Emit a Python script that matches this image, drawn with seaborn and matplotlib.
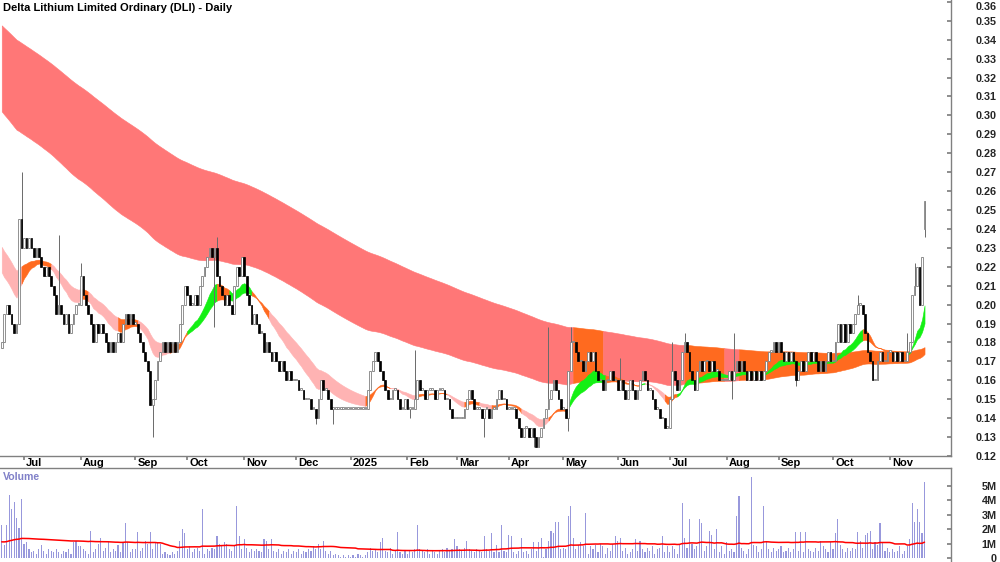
import numpy as np
import pandas as pd
import matplotlib
matplotlib.use("Agg")
import matplotlib.pyplot as plt
import matplotlib.ticker as mticker
import seaborn as sns

# ---- daily closes (A$), one list per month ----
close_jun24 = [0.18, 0.195, 0.2, 0.195, 0.19, 0.185, 0.19, 0.245, 0.23]
close_jul24 = [0.235, 0.23, 0.235, 0.23, 0.225, 0.23, 0.225, 0.22, 0.215, 0.22, 0.215, 0.21,
               0.205, 0.195, 0.2, 0.195, 0.19, 0.195, 0.185, 0.19, 0.195, 0.2, 0.2]
close_aug24 = [0.215, 0.205, 0.2, 0.195, 0.19, 0.18, 0.19, 0.185, 0.19, 0.185, 0.18, 0.175,
               0.18, 0.175, 0.18, 0.185, 0.18, 0.19, 0.195, 0.19, 0.195, 0.19]
close_sep24 = [0.19, 0.185, 0.18, 0.175, 0.17, 0.165, 0.147, 0.15, 0.16, 0.17, 0.175, 0.18,
               0.175, 0.18, 0.175, 0.18, 0.175, 0.18, 0.19, 0.2, 0.21]
close_oct24 = [0.205, 0.2, 0.2, 0.205, 0.2, 0.21, 0.215, 0.22, 0.225, 0.23, 0.225, 0.23,
               0.215, 0.21, 0.205, 0.2, 0.205, 0.2, 0.195, 0.21, 0.22, 0.215, 0.225]
close_nov24 = [0.215, 0.205, 0.2, 0.19, 0.195, 0.19, 0.185, 0.185, 0.175, 0.18, 0.175, 0.17,
               0.175, 0.17, 0.165, 0.17, 0.165, 0.16, 0.165, 0.16, 0.16]
close_dec24 = [0.16, 0.155, 0.155, 0.15, 0.15, 0.15, 0.145, 0.145, 0.14, 0.15, 0.16, 0.155,
               0.155, 0.15, 0.145, 0.145, 0.145, 0.145, 0.145, 0.145, 0.145, 0.145]
close_jan25 = [0.145, 0.145, 0.145, 0.145, 0.145, 0.145, 0.145, 0.155, 0.165, 0.17, 0.175, 0.17,
               0.165, 0.16, 0.155, 0.15, 0.15, 0.155, 0.155, 0.15, 0.145, 0.145, 0.15]
close_feb25 = [0.145, 0.145, 0.145, 0.15, 0.16, 0.155, 0.155, 0.15, 0.155, 0.155, 0.155, 0.15,
               0.155, 0.155, 0.155, 0.15, 0.15, 0.145, 0.14, 0.14]
close_mar25 = [0.14, 0.14, 0.14, 0.145, 0.15, 0.155, 0.15, 0.145, 0.145, 0.145, 0.14, 0.145,
               0.145, 0.14, 0.145, 0.145, 0.15, 0.155, 0.15, 0.15, 0.145]
close_apr25 = [0.145, 0.145, 0.145, 0.14, 0.135, 0.13, 0.135, 0.135, 0.13, 0.135, 0.13, 0.125,
               0.13, 0.135, 0.14, 0.145, 0.15, 0.155, 0.16, 0.155, 0.15, 0.145]
close_may25 = [0.145, 0.14, 0.165, 0.18, 0.18, 0.175, 0.17, 0.17, 0.165, 0.17, 0.175, 0.17,
               0.175, 0.165, 0.16, 0.16, 0.155, 0.16, 0.16, 0.165, 0.16, 0.16]
close_jun25 = [0.155, 0.16, 0.155, 0.15, 0.155, 0.16, 0.155, 0.15, 0.155, 0.16, 0.165, 0.16,
               0.155, 0.155, 0.15, 0.145, 0.145, 0.14, 0.14, 0.135, 0.135]
close_jul25 = [0.15, 0.165, 0.16, 0.155, 0.16, 0.175, 0.18, 0.175, 0.165, 0.16, 0.155, 0.165,
               0.17, 0.165, 0.17, 0.17, 0.165, 0.17, 0.165, 0.165, 0.16, 0.16, 0.16]
close_aug25 = [0.16, 0.165, 0.16, 0.165, 0.17, 0.165, 0.17, 0.165, 0.16, 0.165, 0.16, 0.165,
               0.16, 0.165, 0.16, 0.165, 0.17, 0.175, 0.175, 0.18, 0.175]
close_sep25 = [0.18, 0.175, 0.17, 0.175, 0.17, 0.175, 0.17, 0.16, 0.165, 0.17, 0.165, 0.17,
               0.175, 0.17, 0.175, 0.17, 0.165, 0.17, 0.165, 0.17, 0.175, 0.17]
close_oct25 = [0.17, 0.18, 0.19, 0.18, 0.19, 0.18, 0.19, 0.185, 0.19, 0.195, 0.2, 0.2,
               0.195, 0.185, 0.175, 0.17, 0.16, 0.16, 0.17, 0.175, 0.17, 0.17, 0.175]
close_nov25 = [0.175, 0.17, 0.175, 0.17, 0.175, 0.17, 0.17, 0.175, 0.18, 0.205, 0.21, 0.22,
               0.2, 0.225, 0.255]

# ---- daily volume (millions of shares) ----
vol_jun24 = [2.3, 0.9, 2.3, 4.4, 3.4, 3.9, 2.8, 2.1, 4.1]
vol_jul24 = [1.0, 1.1, 0.6, 0.4, 0.5, 0.3, 0.6, 0.9, 0.5, 0.3, 0.6, 0.5, 0.4, 0.6, 0.4, 0.3,
             0.5, 0.4, 0.6, 0.3, 1.1, 1.2, 0.8]
vol_aug24 = [0.8, 0.6, 0.5, 0.3, 1.9, 0.4, 0.6, 1.0, 1.4, 0.5, 0.7, 1.2, 0.4, 0.6, 0.5, 0.9,
             0.4, 1.1, 2.4, 1.1, 0.4, 0.6]
vol_sep24 = [0.6, 1.8, 0.5, 0.7, 1.2, 1.0, 1.8, 0.6, 1.1, 1.1, 1.0, 0.3, 0.4, 0.3, 0.2, 0.4,
             0.3, 0.5, 1.2, 2.0, 1.7]
vol_oct24 = [0.6, 0.8, 0.4, 0.6, 0.7, 0.5, 3.4, 0.3, 0.6, 0.5, 0.7, 0.6, 1.5, 1.0, 0.9, 1.1,
             1.0, 0.6, 0.5, 0.8, 3.6, 1.5, 0.6]
vol_nov24 = [1.3, 0.7, 0.4, 0.6, 0.5, 0.6, 0.5, 0.4, 1.3, 1.2, 0.6, 1.3, 0.5, 0.4, 0.6, 0.3,
             0.5, 0.4, 0.6, 0.3, 0.5]
vol_dec24 = [0.4, 0.6, 0.3, 0.5, 0.4, 0.6, 0.5, 0.8, 0.6, 1.0, 0.6, 1.2, 0.5, 0.3, 0.5, 0.2,
             0.3, 0.2, 0.1, 0.2, 0.1, 0.2]
vol_jan25 = [0.1, 0.2, 0.1, 0.3, 0.2, 0.1, 0.2, 0.4, 0.7, 0.5, 0.6, 0.4, 1.1, 1.4, 0.5, 0.4,
             0.7, 0.3, 0.5, 1.8, 0.4, 0.3, 0.5]
vol_feb25 = [0.3, 0.5, 0.4, 0.6, 2.3, 0.6, 0.5, 0.4, 0.6, 0.3, 0.5, 0.4, 0.3, 0.5, 0.6, 0.4,
             0.7, 0.5, 0.6, 1.3]
vol_mar25 = [0.8, 0.6, 0.5, 0.7, 1.2, 0.6, 0.5, 0.4, 0.6, 0.5, 0.4, 1.5, 0.6, 0.5, 1.7, 0.4,
             0.9, 0.4, 2.3, 0.5, 0.4]
vol_apr25 = [1.6, 1.5, 0.4, 0.3, 0.5, 1.4, 0.4, 0.5, 0.3, 0.6, 1.1, 0.5, 1.1, 1.4, 0.1, 0.6,
             1.2, 1.9, 1.7, 2.5, 2.5, 0.6]
vol_may25 = [0.7, 0.6, 2.9, 3.6, 1.4, 0.6, 0.9, 1.1, 0.8, 3.1, 0.3, 0.8, 0.6, 0.9, 0.4, 1.0,
             0.8, 0.3, 0.7, 0.5, 1.0, 1.5]
vol_jun25 = [1.2, 1.4, 0.5, 0.7, 0.3, 0.4, 0.6, 1.3, 0.5, 1.2, 0.6, 0.4, 0.7, 0.5, 0.8, 0.3,
             0.6, 0.7, 1.5, 0.4, 0.8]
vol_jul25 = [0.4, 0.8, 0.6, 0.3, 0.9, 3.8, 1.4, 0.7, 2.7, 1.0, 0.6, 0.8, 2.7, 2.4, 0.5, 0.8,
             1.9, 1.6, 0.6, 2.0, 0.4, 0.8, 0.3]
vol_aug25 = [1.1, 0.5, 0.6, 0.4, 2.9, 4.3, 0.7, 0.5, 0.3, 0.6, 5.6, 0.9, 0.8, 0.4, 0.6, 3.6,
             1.2, 0.6, 0.4, 0.7, 0.5]
vol_sep25 = [0.6, 0.8, 0.4, 0.5, 0.7, 0.4, 0.6, 1.8, 0.5, 1.8, 0.4, 1.8, 0.6, 0.5, 0.4, 0.7,
             0.5, 1.2, 0.8, 0.6, 0.4, 1.1]
vol_oct25 = [0.6, 1.7, 2.7, 0.9, 0.6, 0.4, 0.7, 0.5, 0.7, 0.6, 1.8, 1.2, 0.7, 1.6, 1.7, 1.9,
             0.6, 1.1, 0.9, 2.4, 1.1, 0.5, 0.7]
vol_nov25 = [0.4, 0.6, 0.4, 0.5, 0.8, 0.3, 0.5, 0.8, 1.3, 3.8, 2.5, 3.4, 2.5, 1.7, 5.3]

first_open = 0.177
gap_open = {"2025-11-21": 0.24}
wick_high = {"2024-06-28": 0.27, "2024-07-19": 0.237, "2024-08-01": 0.222, "2024-10-17": 0.236,
             "2025-02-06": 0.176, "2025-04-23": 0.188, "2025-05-06": 0.188, "2025-06-03": 0.172,
             "2025-07-02": 0.18, "2025-07-09": 0.185, "2025-08-06": 0.185, "2025-10-15": 0.205,
             "2025-11-12": 0.185, "2025-11-17": 0.222}
wick_low = {"2024-09-11": 0.13, "2024-10-16": 0.188, "2024-12-12": 0.137, "2024-12-23": 0.137,
            "2025-02-04": 0.14, "2025-03-18": 0.13, "2025-04-15": 0.125, "2025-05-05": 0.133,
            "2025-08-05": 0.15, "2025-09-10": 0.157, "2025-11-21": 0.236}

# moving-average ribbons: EMA spans and their values at the left edge of the chart
short_spans = (16, 30)
short_seed = (0.222, 0.234)
long_spans = (130, 240)
long_seed = (0.304, 0.349)
vol_ma_window = 63
vol_ma_seed = 1.1

# ribbon colouring (start inclusive, end exclusive)
short_orange = [("2024-06-28", "2024-07-16"), ("2024-08-01", "2024-08-06"), ("2024-08-22", "2024-09-03"),
                ("2024-09-20", "2024-10-01"), ("2024-10-17", "2024-10-24"), ("2024-11-06", "2024-11-15"),
                ("2025-01-09", "2025-01-23"), ("2025-02-06", "2025-02-25"), ("2025-03-06", "2025-03-14"),
                ("2025-03-21", "2025-04-08"), ("2025-04-23", "2025-05-05"), ("2025-05-26", "2025-06-13"),
                ("2025-06-27", "2025-07-04"), ("2025-10-17", "2025-11-12")]
short_green = [("2024-10-01", "2024-10-17"), ("2024-10-24", "2024-11-06"), ("2025-05-05", "2025-05-26"),
               ("2025-06-13", "2025-06-17"), ("2025-07-04", "2025-10-17"), ("2025-11-12", "2025-11-22")]
long_orange = [("2025-05-07", "2025-05-23"), ("2025-07-09", "2025-07-31"), ("2025-08-08", "2025-11-22")]

RED, PINK, ORANGE, GREEN = "#ff7777", "#ffb3b3", "#ff6a1f", "#14f014"

closes = np.array(close_jun24 + close_jul24 + close_aug24 + close_sep24 + close_oct24 + close_nov24
                  + close_dec24 + close_jan25 + close_feb25 + close_mar25 + close_apr25 + close_may25
                  + close_jun25 + close_jul25 + close_aug25 + close_sep25 + close_oct25 + close_nov25)
volume = np.array(vol_jun24 + vol_jul24 + vol_aug24 + vol_sep24 + vol_oct24 + vol_nov24
                  + vol_dec24 + vol_jan25 + vol_feb25 + vol_mar25 + vol_apr25 + vol_may25
                  + vol_jun25 + vol_jul25 + vol_aug25 + vol_sep25 + vol_oct25 + vol_nov25) * 1e6
dates = pd.bdate_range("2024-06-18", "2025-11-21")
n = len(dates)
assert len(closes) == n and len(volume) == n, (len(closes), len(volume), n)

df = pd.DataFrame({"date": dates, "close": closes, "volume": volume})
df["open"] = df["close"].shift(1).fillna(first_open)
for d, o in gap_open.items():
    df.loc[df["date"] == d, "open"] = o
df["high"] = df[["open", "close"]].max(axis=1)
df["low"] = df[["open", "close"]].min(axis=1)
for d, h in wick_high.items():
    df.loc[df["date"] == d, "high"] = h
for d, lo in wick_low.items():
    df.loc[df["date"] == d, "low"] = lo
x = np.arange(n)


def ema(values, span, seed):
    s = pd.Series(np.r_[seed, values])
    return s.ewm(span=span, adjust=False).mean().to_numpy()[1:]


def colours(default, groups):
    col = np.array([default] * n, dtype=object)
    for c, segs in groups:
        for a, b in segs:
            col[(dates >= a) & (dates < b)] = c
    return col


def fill_band(ax, lo, hi, cols, z):
    start = 0
    for i in range(1, n + 1):
        if i == n or cols[i] != cols[start]:
            sl = slice(start, min(i + 1, n))
            ax.fill_between(x[sl], lo[sl], hi[sl], color=cols[start], lw=0.4, zorder=z)
            start = i


s_fast = ema(closes, short_spans[0], short_seed[0])
s_slow = ema(closes, short_spans[1], short_seed[1])
l_fast = ema(closes, long_spans[0], long_seed[0])
l_slow = ema(closes, long_spans[1], long_seed[1])

pad = np.full(vol_ma_window - 1, vol_ma_seed * 1e6)
vol_ma = pd.Series(np.r_[pad, volume]).rolling(vol_ma_window).mean().to_numpy()[vol_ma_window - 1:]

sns.set_theme(style="white")
plt.rcParams["font.family"] = ["Liberation Sans", "DejaVu Sans"]

fig = plt.figure(figsize=(10, 5.62), dpi=100)
ax = fig.add_axes([0, 106 / 562, 0.951, 456 / 562])
axv = fig.add_axes([0, 0, 0.951, 94 / 562])

GREY = "#808080"
xlim = (-0.7, 383.7)
LABEL_PAD = 33  # points: labels end near the right edge of the image

# ribbons
fill_band(ax, np.minimum(l_fast, l_slow), np.maximum(l_fast, l_slow),
          colours(RED, [(ORANGE, long_orange)]), 1)
fill_band(ax, np.minimum(s_fast, s_slow), np.maximum(s_fast, s_slow),
          colours(PINK, [(ORANGE, short_orange), (GREEN, short_green)]), 2)

# price bars
up = df["close"] >= df["open"]
ax.vlines(x, df["low"], df["high"], color="#6a6a6a", lw=0.7, zorder=3)
body = (df["close"] - df["open"]).abs().clip(lower=0.0008)
bottom = df[["open", "close"]].min(axis=1)
ax.bar(x[up], body[up], bottom=bottom[up], width=0.7, facecolor="white",
       edgecolor="#808080", lw=0.6, zorder=4)
ax.bar(x[~up], body[~up], bottom=bottom[~up], width=0.7, facecolor="black",
       edgecolor="black", lw=0.5, zorder=4)

ax.set_xlim(*xlim)
ax.set_ylim(0.12, 0.361)
ax.yaxis.tick_right()
price_ticks = np.round(np.arange(0.12, 0.3601, 0.01), 2)
ax.set_yticks(price_ticks)
ax.yaxis.set_major_formatter(mticker.FormatStrFormatter("%.2f"))
ax.tick_params(axis="y", direction="in", length=3, color=GREY, pad=LABEL_PAD,
               labelsize=7.8, right=True, left=False)
for lab in ax.get_yticklabels():
    lab.set_fontweight("bold")
    lab.set_horizontalalignment("right")
ax.get_yticklabels()[-1].set_verticalalignment("top")

month_starts = df.groupby(df["date"].dt.to_period("M")).head(1)
month_starts = month_starts[month_starts["date"].dt.day <= 7]
ax.set_xticks(month_starts.index)
ax.set_xticklabels([])
ax.tick_params(axis="x", direction="out", length=3, color=GREY, bottom=True)
for i, d in zip(month_starts.index, month_starts["date"]):
    label = str(d.year) if d.month == 1 else d.strftime("%b")
    ax.annotate(label, xy=(i, 0), xycoords=("data", "axes fraction"), xytext=(1.5, -5),
                textcoords="offset points", ha="left", va="center",
                fontsize=8, fontweight="bold", color="black", annotation_clip=False)

for side in ["left", "top"]:
    ax.spines[side].set_visible(False)
for side in ["right", "bottom"]:
    ax.spines[side].set_color(GREY)
    ax.spines[side].set_linewidth(1)

fig.text(0.003, 1 - 8 / 562, "Delta Lithium Limited Ordinary (DLI) - Daily",
         ha="left", va="center", fontsize=8, fontweight="bold", color="black")

# volume panel
axv.bar(x, volume, width=0.45, color="#9898dc", lw=0, zorder=2)
sns.lineplot(x=x, y=vol_ma, ax=axv, color="#ff0000", lw=1.1, zorder=3)
axv.set_xlim(*xlim)
axv.set_ylim(-0.28e6, 6.25e6)
axv.yaxis.tick_right()
axv.set_yticks([0, 1e6, 2e6, 3e6, 4e6, 5e6])
axv.set_yticklabels(["0", "1M", "2M", "3M", "4M", "5M"])
axv.tick_params(axis="y", direction="in", length=3, color=GREY, pad=LABEL_PAD,
                labelsize=7.8, right=True, left=False)
for lab in axv.get_yticklabels():
    lab.set_fontweight("bold")
    lab.set_horizontalalignment("right")
axv.set_xticks([])
for side in ["left", "bottom"]:
    axv.spines[side].set_visible(False)
for side in ["right", "top"]:
    axv.spines[side].set_color(GREY)
    axv.spines[side].set_linewidth(1)
axv.text(0.003, 0.9, "Volume", transform=axv.transAxes, ha="left", va="center",
         fontsize=7.6, fontweight="bold", color="#8080c8")

fig.savefig("out.png", dpi=100)
